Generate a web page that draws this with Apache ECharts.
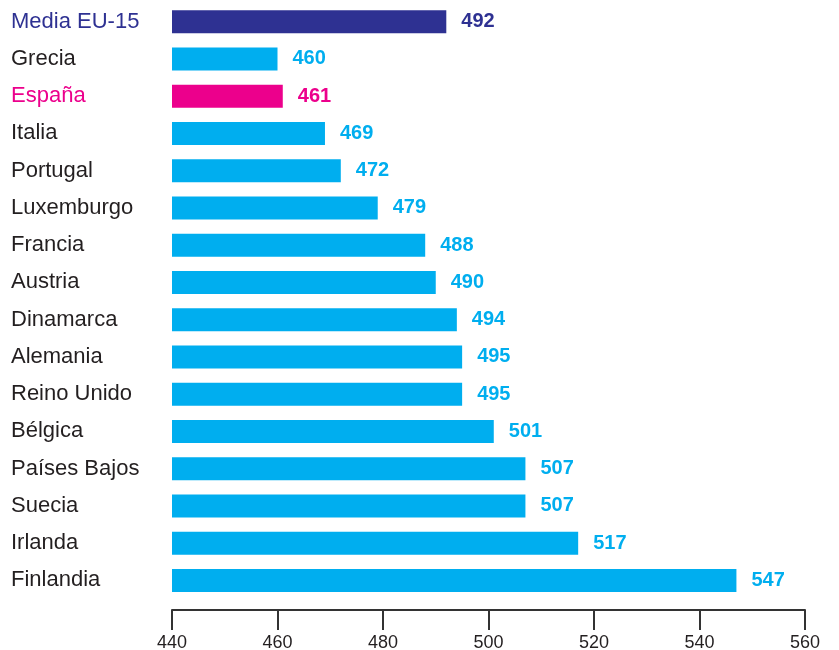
<!DOCTYPE html>
<html>
<head>
<meta charset="utf-8">
<script src="https://cdn.jsdelivr.net/npm/echarts@6/dist/echarts.min.js"></script>
<style>
  html, body { margin: 0; padding: 0; background: #fff; }
  #chart { width: 839px; height: 650px; }
</style>
</head>
<body>
<div id="chart"></div>
<script>
var paises = ['Media EU-15', 'Grecia', 'España', 'Italia', 'Portugal', 'Luxemburgo', 'Francia', 'Austria',
  'Dinamarca', 'Alemania', 'Reino Unido', 'Bélgica', 'Países Bajos', 'Suecia', 'Irlanda', 'Finlandia'];
var puntos = [492, 460, 461, 469, 472, 479, 488, 490, 494, 495, 495, 501, 507, 507, 517, 547];
var ticks = [440, 460, 480, 500, 520, 540, 560];

var AZUL = '#00aeef', MEDIA = '#2e3192', ESP = '#ec008c';
function colorDe(nombre) {
  if (nombre === 'Media EU-15') return MEDIA;
  if (nombre === 'España') return ESP;
  return AZUL;
}

window.onload = function () {
  var myChart = echarts.init(document.getElementById('chart'));
  var option = {
    animation: false,
    grid: { left: 172, right: 34, top: 3, bottom: 51, outerBoundsMode: 'none', containLabel: false },
    xAxis: {
      type: 'value',
      min: ticks[0],
      max: ticks[ticks.length - 1],
      interval: 20,
      offset: 11,
      splitLine: { show: false },
      axisLine: { show: true, lineStyle: { color: '#333', width: 2 } },
      axisTick: { show: true, length: 20, lineStyle: { color: '#333', width: 2 } },
      axisLabel: { margin: 24, fontSize: 18, color: '#231f20', fontFamily: 'Liberation Sans, Arial' }
    },
    yAxis: {
      type: 'category',
      inverse: true,
      data: paises,
      axisLine: { show: false },
      axisTick: { show: false },
      axisLabel: {
        align: 'left',
        margin: 161,
        fontSize: 22,
        fontFamily: 'Liberation Sans, Arial, sans-serif',
        color: function (v) { return v === 'Media EU-15' ? MEDIA : (v === 'España' ? ESP : '#231f20'); }
      }
    },
    series: [{
      type: 'bar',
      barWidth: 23,
      data: puntos.map(function (v, i) {
        return { value: v, itemStyle: { color: colorDe(paises[i]) },
          label: { color: colorDe(paises[i]) } };
      }),
      label: {
        show: true,
        position: 'right',
        distance: 15,
        fontSize: 20,
        fontWeight: 'bold',
        fontFamily: 'Liberation Sans, Arial, sans-serif'
      }
    }]
  };
  myChart.setOption(option);
};
</script>
</body>
</html>
